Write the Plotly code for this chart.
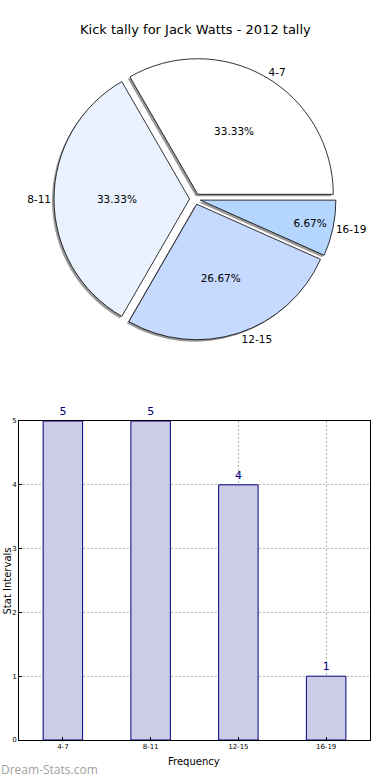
import plotly.graph_objects as go

# ---- data ----
categories = ["4-7", "8-11", "12-15", "16-19"]
values = [5, 5, 4, 1]
pie_colors = ["#FFFFFF", "#EBF2FF", "#C6D9FF", "#B4D6FF"]
title_text = "Kick tally for Jack Watts - 2012 tally"
bar_y_ticks = [0, 1, 2, 3, 4, 5]

W, H = 390, 780
PULL = 0.04
# first slice starts at 3 o'clock and runs counterclockwise (plotly places the
# first slice clockwise from 'rotation' when direction is counterclockwise)
ROT = 90 - 360 * values[0] / sum(values)

# pie domain (pixels -> paper)
cx, cy, R = 195, 199, 141
def pdom(dx=0, dy=0):
    x0 = (cx - R + dx) / W
    x1 = (cx + R + dx) / W
    y0 = 1 - (cy + R + dy) / H
    y1 = 1 - (cy - R + dy) / H
    return dict(x=[x0, x1], y=[y0, y1])

fig = go.Figure()

pie_common = dict(labels=categories, values=values, sort=False,
                  direction="counterclockwise", rotation=ROT,
                  pull=[PULL] * len(values), showlegend=False,
                  automargin=False)

# shadow
fig.add_trace(go.Pie(
    domain=pdom(-2, 2),
    marker=dict(colors=["#9a9a9a"] * len(values), line=dict(width=0)),
    textinfo="none", hoverinfo="skip", **pie_common,
))
# main pie with percentages
fig.add_trace(go.Pie(
    domain=pdom(),
    marker=dict(colors=pie_colors, line=dict(color="#000000", width=0.8)),
    texttemplate="%{percent:.2%}", textposition="inside",
    insidetextorientation="horizontal",
    insidetextfont=dict(family="DejaVu Sans", size=10.5, color="#000000"),
    **pie_common,
))
# labels outside
fig.add_trace(go.Pie(
    domain=pdom(),
    marker=dict(colors=["rgba(0,0,0,0)"] * len(values), line=dict(width=0)),
    textinfo="label", textposition="outside",
    outsidetextfont=dict(family="DejaVu Sans", size=10.5, color="#000000"),
    hoverinfo="skip", **pie_common,
))

# bar chart
fig.add_trace(go.Bar(
    x=categories, y=values, width=0.45,
    marker=dict(color="#CCCCE6", line=dict(color="#000080", width=1)),
    text=[str(v) for v in values], textposition="outside",
    textfont=dict(family="DejaVu Sans", size=11, color="#000080"),
    cliponaxis=False, constraintext="none",
    xaxis="x", yaxis="y", showlegend=False,
))

axis_common = dict(
    showgrid=True, gridcolor="#b4b4b4", griddash="2px,2px", gridwidth=1,
    showline=True, linecolor="#000000", linewidth=1, mirror=True,
    ticks="inside", ticklen=3, tickcolor="#000000",
    tickfont=dict(family="DejaVu Sans", size=7, color="#000000"),
    zeroline=False, layer="above traces", automargin=False,
)

fig.update_layout(
    width=W, height=H,
    margin=dict(l=0, r=0, t=0, b=0, pad=0, autoexpand=False),
    paper_bgcolor="#FFFFFF", plot_bgcolor="#FFFFFF",
    font=dict(family="DejaVu Sans", color="#000000"),
    showlegend=False,
    xaxis=dict(domain=[19 / W, 370 / W], type="category",
               range=[-0.5, 3.5], anchor="y", **axis_common),
    yaxis=dict(domain=[1 - 740 / H, 1 - 421 / H], range=[0, 5],
               tickvals=bar_y_ticks, anchor="x", **axis_common),
    annotations=[
        dict(text=title_text, xref="paper", yref="paper", x=0.5, y=1 - 30 / H,
             showarrow=False, font=dict(size=13, family="DejaVu Sans"),
             xanchor="center", yanchor="middle"),
        dict(text="Stat Intervals", xref="paper", yref="paper", x=0,
             y=1 - 581 / H, textangle=-90, showarrow=False,
             font=dict(size=10, family="DejaVu Sans"),
             xanchor="left", yanchor="middle", borderpad=0),
        dict(text="Frequency", xref="paper", yref="paper", x=194 / W,
             y=1 - 761 / H, showarrow=False,
             font=dict(size=10, family="DejaVu Sans"),
             xanchor="center", yanchor="middle"),
        dict(text="Dream-Stats.com", xref="paper", yref="paper", x=0,
             y=1 - 769 / H, showarrow=False,
             font=dict(size=12, family="Open Sans", color="#A0A0A0"),
             xanchor="left", yanchor="middle", borderpad=0),
    ],
)

fig.write_html("out.html",
               config={"displayModeBar": False},
               post_script="document.body.style.margin='0';"
                           "document.body.style.padding='0';")
